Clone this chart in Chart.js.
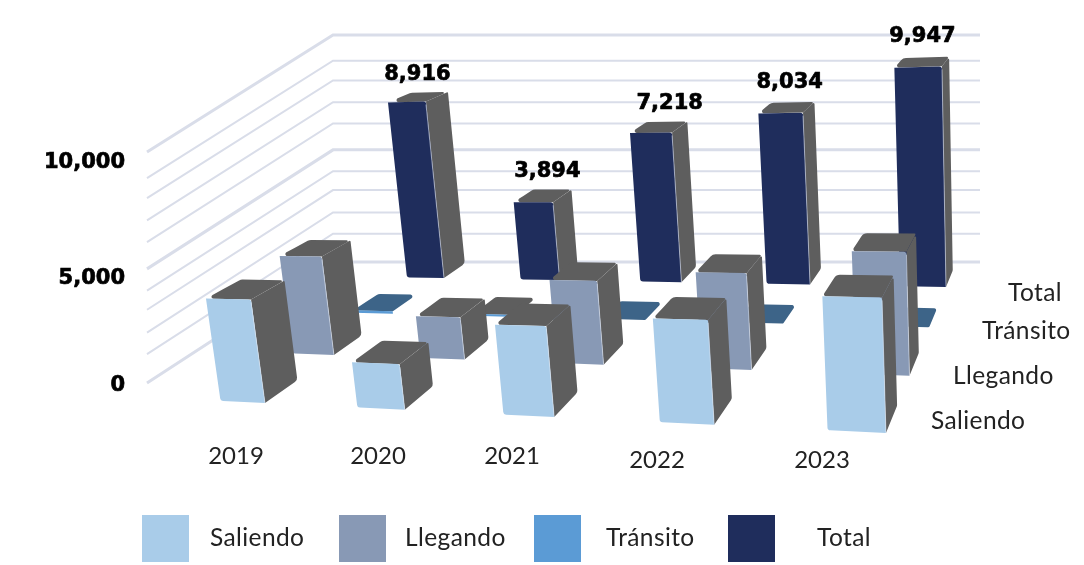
<!DOCTYPE html>
<html><head><meta charset="utf-8">
<style>html,body{margin:0;padding:0;background:#fff}canvas{display:block}</style>
<script src="https://cdn.jsdelivr.net/npm/chart.js@4"></script>
</head><body><div style="width:1084px;height:565px"><canvas id="c"></canvas></div>
<script>
const categories = ['2019','2020','2021','2022','2023'];
const saliendo = [4310,1860,3560,3960,4920];
const llegando = [4410,1860,3550,3970,4900];
const transito = [116,94,18,14,17];
const total    = [8916,3894,7218,8034,9947];
const seriesNames = ['Saliendo','Llegando','Tránsito','Total'];
const seriesColors = ['#A9CCE9','#8899B5','#5B9BD5','#1F2D5C'];
const wallTicks = [0,1000,2000,3000,4000,5000,6000,7000,8000,9000,10000];

const SIDE='#5E5E5E', TRANSIT_TOP='#3D6488', GRID='#D9DDE9';
const wallWarp=[0,.125,.218,.317,.40,.494,.61,.704,.80,.887,1];
// camera: floor (s along years, t across series) plus height v
const cam={a:507.3,b:291.1,c:265,d:-25.6,e:-54.8,f:403,g:-.1283,h:.2524,p:-42.5,q:-252,r:-.0403};
function project(s,t,v){
  const w=cam.g*s+cam.h*t+cam.r*v+1;
  return [(cam.a*s+cam.b*t+cam.p*v+cam.c)/w,(cam.d*s+cam.e*t+cam.q*v+cam.f)/w];
}
// polygon with a corner radius per vertex
function poly(ctx,pts,fill,radii){
  const n=pts.length,mid=(a,b)=>[(a[0]+b[0])/2,(a[1]+b[1])/2];
  const st=mid(pts[n-1],pts[0]);
  ctx.beginPath();ctx.moveTo(st[0],st[1]);
  pts.forEach((p,i)=>{
    const nx=pts[(i+1)%n],r=radii?radii[i]:0;
    if(r>0){ctx.arcTo(p[0],p[1],nx[0],nx[1],r);}else ctx.lineTo(p[0],p[1]);
  });
  ctx.closePath();ctx.fillStyle=fill;ctx.fill();
}
const BODY='"Lato"';
const catLabelX=[236,378,512,657,822], catLabelY=[456,456,456,460,460];
const depthLabelX=[931,953,982,1008], depthLabelY=[421,376,331,293];
const legendX=[142,339,534,728], legendTextX=[210,405,606,817];
const valueLabelDx=[0,5,11,3,0], valueLabelDy=[4,2,3,1,1];

const bars3d={
  id:'bars3d',
  beforeDraw(chart){
    const y=chart.scales.y, items=y.getLabelItems&&y.getLabelItems();
    if(items&&items[1]&&!items[1]._moved){items[1].options.translation[1]+=4;items[1]._moved=true;}
    const ctx=chart.ctx;
    ctx.save();ctx.strokeStyle=GRID;
    wallTicks.forEach((tk,i)=>{
      const f=wallWarp[i];
      ctx.lineWidth=tk%5000===0?3:2;
      ctx.beginPath();ctx.moveTo(147,383-231*f);ctx.lineTo(333,262-227*f);ctx.lineTo(980,262-227*f);ctx.stroke();
    });
    ctx.restore();
  },
  beforeDatasetDraw(){return false;},
  afterDatasetsDraw(chart){
    const ctx=chart.ctx,x=chart.scales.x,y=chart.scales.y;
    const x0=x.getPixelForValue(0),x4=x.getPixelForValue(categories.length-1);
    const y0=y.getPixelForValue(0),unit=y0-y.getPixelForValue(10000);
    ctx.save();
    for(let k=3;k>=0;k--){
      const ds=chart.data.datasets[k];
      ds.data.forEach((val,i)=>{
        const s1=(x.getPixelForValue(i)-x0)/(x4-x0),s0=s1-.083,t0=k/3,t1=t0+.15;
        const v=(y0-y.getPixelForValue(val))/unit;
        const fbl=project(s0,t0,0),fbr=project(s1,t0,0),bbr=project(s1,t1,0),
          ftl=project(s0,t0,v),ftr=project(s1,t0,v),btr=project(s1,t1,v),btl=project(s0,t1,v);
        const top=k===2&&i!==1?TRANSIT_TOP:SIDE;
        if(k===2){
          poly(ctx,[ftl,ftr,btr,btl],top,[1,2,2,6]);
          if(val>50) poly(ctx,[fbl,fbr,ftr,ftl],seriesColors[k]);
          return;
        }
        poly(ctx,[fbr,bbr,btr,ftr],SIDE,[0,5,1,0]);
        poly(ctx,[ftl,ftr,btr,btl],top,[2,0,1,7]);
        poly(ctx,[fbl,fbr,ftr,ftl],seriesColors[k],[3,0,3,0]);
        ctx.strokeStyle='rgba(225,232,242,.55)';ctx.lineWidth=1;
        ctx.beginPath();ctx.moveTo(fbr[0],fbr[1]);ctx.lineTo(ftr[0],ftr[1]+3);ctx.stroke();
      });
    }
    // value labels on the Total series
    ctx.fillStyle='#000';ctx.strokeStyle='#000';ctx.lineWidth=.7;ctx.lineJoin='round';
    ctx.textAlign='center';ctx.textBaseline='middle';ctx.font='bold 21px "DejaVu Sans"';
    total.forEach((val,i)=>{
      const s1=(x.getPixelForValue(i)-x0)/(x4-x0);
      const p=project(s1-.04,1.065,(y0-y.getPixelForValue(val))/unit);
      const txt=val.toLocaleString('en-US'),tx=p[0]+valueLabelDx[i],ty=p[1]-27+valueLabelDy[i];
      ctx.fillText(txt,tx,ty);ctx.strokeText(txt,tx,ty);
    });
    ctx.font='24px '+BODY;ctx.fillStyle='#222';
    categories.forEach((c,i)=>ctx.fillText(c,catLabelX[i],catLabelY[i]));
    ctx.textAlign='left';ctx.font='24.5px '+BODY;ctx.letterSpacing='0.4px';
    seriesNames.forEach((n,i)=>ctx.fillText(n,depthLabelX[i],depthLabelY[i]));
    seriesNames.forEach((n,i)=>{
      ctx.fillStyle=seriesColors[i];ctx.fillRect(legendX[i],515,47,47);
      ctx.fillStyle='#222';ctx.fillText(n,legendTextX[i],538);
    });
    ctx.letterSpacing='0px';
    ctx.restore();
  }
};

new Chart(document.getElementById('c'),{
  type:'bar',
  data:{labels:categories,datasets:[
    {label:seriesNames[0],data:saliendo,backgroundColor:seriesColors[0]},
    {label:seriesNames[1],data:llegando,backgroundColor:seriesColors[1]},
    {label:seriesNames[2],data:transito,backgroundColor:seriesColors[2]},
    {label:seriesNames[3],data:total,backgroundColor:seriesColors[3]}
  ]},
  options:{
    responsive:true,maintainAspectRatio:false,animation:false,devicePixelRatio:1,
    layout:{padding:{left:42,top:163,bottom:179,right:94}},
    plugins:{legend:{display:false},tooltip:{enabled:false}},
    scales:{
      x:{display:false},
      y:{min:0,max:10000,afterFit(s){s.width=90;},
        ticks:{stepSize:5000,padding:7,color:'#000',textStrokeColor:'#000',textStrokeWidth:.7,
          font:{family:'"DejaVu Sans"',size:21,weight:'bold'},
          callback:v=>v.toLocaleString('en-US')},
        grid:{display:false,drawTicks:false},border:{display:false}}
    }
  },
  plugins:[bars3d]
});
</script></body></html>
